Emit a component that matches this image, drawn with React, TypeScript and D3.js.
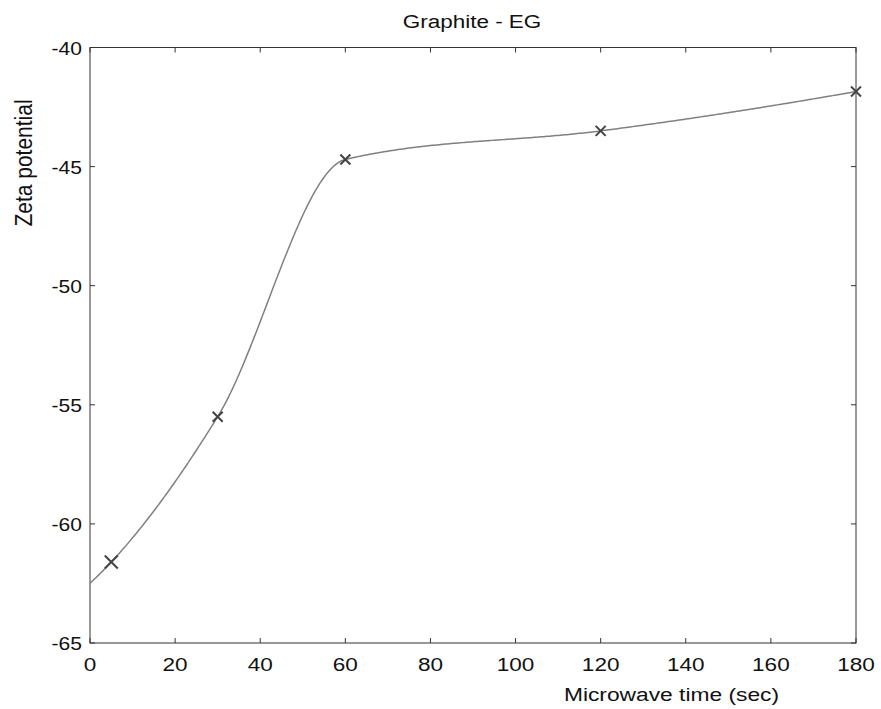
import React from "react";
import * as d3 from "d3";

const times = [5, 30, 60, 120, 180];
const zeta = [-61.6, -55.5, -44.7, -43.5, -41.85];
const xTicks = [0, 20, 40, 60, 80, 100, 120, 140, 160, 180];
const yTicks = [-65, -60, -55, -50, -45, -40];
const title = "Graphite - EG";
const xLabel = "Microwave time (sec)";
const yLabel = "Zeta potential";

// MATLAB-style pchip (shape-preserving piecewise cubic) with end extrapolation
function pchip(xs: number[], ys: number[]) {
  const n = xs.length;
  const h: number[] = [];
  const del: number[] = [];
  for (let i = 0; i < n - 1; i++) {
    h.push(xs[i + 1] - xs[i]);
    del.push((ys[i + 1] - ys[i]) / h[i]);
  }
  const d = new Array(n).fill(0);
  for (let k = 1; k < n - 1; k++) {
    if (del[k - 1] * del[k] > 0) {
      const w1 = 2 * h[k] + h[k - 1];
      const w2 = h[k] + 2 * h[k - 1];
      d[k] = (w1 + w2) / (w1 / del[k - 1] + w2 / del[k]);
    }
  }
  const endSlope = (h0: number, h1: number, d0: number, d1: number) => {
    let s = ((2 * h0 + h1) * d0 - h0 * d1) / (h0 + h1);
    if (Math.sign(s) !== Math.sign(d0)) s = 0;
    else if (Math.sign(d0) !== Math.sign(d1) && Math.abs(s) > Math.abs(3 * d0)) s = 3 * d0;
    return s;
  };
  d[0] = endSlope(h[0], h[1], del[0], del[1]);
  d[n - 1] = endSlope(h[n - 2], h[n - 3], del[n - 2], del[n - 3]);
  return (x: number) => {
    let k = 0;
    while (k < n - 2 && x > xs[k + 1]) k++;
    const hk = h[k];
    const t = x - xs[k];
    const c = (3 * del[k] - 2 * d[k] - d[k + 1]) / hk;
    const b = (d[k] - 2 * del[k] + d[k + 1]) / (hk * hk);
    return ys[k] + t * (d[k] + t * (c + t * b));
  };
}

function T(props: { x: number; y: number; anchor: string; size: number; sx: number; children: any; rotate?: boolean }) {
  const { x, y, anchor, size, sx, children, rotate } = props;
  const tr = rotate
    ? `translate(${x},${y}) scale(${sx},1) rotate(-90)`
    : `translate(${x},${y}) scale(${sx},1)`;
  return (
    <text transform={tr} textAnchor={anchor} fontSize={size} fill="#111">
      {children}
    </text>
  );
}

export default function App() {
  const W = 881, H = 709;
  const left = 90, right = 856, top = 47.5, bottom = 643;
  const x = d3.scaleLinear().domain([0, 180]).range([left, right]);
  const y = d3.scaleLinear().domain([-65, -40]).range([bottom, top]);
  const f = pchip(times, zeta);
  const samples = d3.range(0, 180.01, 0.5);
  const line = d3.line<number>().x((t) => x(t)).y((t) => y(f(t)));
  const font = "'Liberation Sans', Arial, Helvetica, sans-serif";
  const tick = 5;
  const axisColor = "#333";
  return (
    <svg width={W} height={H} style={{ position: "absolute", left: 0, top: 0, background: "#fff" }} fontFamily={font}>
      <rect x={0} y={0} width={W} height={H} fill="#fff" />
      <rect x={left} y={top} width={right - left} height={bottom - top} fill="none" stroke={axisColor} strokeWidth={1} />
      {xTicks.map((t) => (
        <g key={"x" + t}>
          <line x1={x(t)} x2={x(t)} y1={bottom} y2={bottom - tick} stroke={axisColor} />
          <line x1={x(t)} x2={x(t)} y1={top} y2={top + tick} stroke={axisColor} />
          <T x={x(t)} y={671} anchor="middle" size={18.5} sx={1.22}>{t}</T>
        </g>
      ))}
      {yTicks.map((v) => (
        <g key={"y" + v}>
          <line x1={left} x2={left + tick} y1={y(v)} y2={y(v)} stroke={axisColor} />
          <line x1={right} x2={right - tick} y1={y(v)} y2={y(v)} stroke={axisColor} />
          <T x={82} y={y(v) + 7} anchor="end" size={18} sx={1.17}>{v}</T>
        </g>
      ))}
      <path d={line(samples) || ""} fill="none" stroke="#808080" strokeWidth={1.5} />
      {times.map((t, i) => {
        const cx = x(t), cy = y(zeta[i]), r = i === 0 ? 6.5 : 5;
        return (
          <g key={"m" + i} stroke="#444" strokeWidth={2}>
            <line x1={cx - r} y1={cy - r} x2={cx + r} y2={cy + r} />
            <line x1={cx - r} y1={cy + r} x2={cx + r} y2={cy - r} />
          </g>
        );
      })}
      <T x={472} y={28} anchor="middle" size={18} sx={1.25}>{title}</T>
      <T x={671.5} y={701} anchor="middle" size={19} sx={1.2}>{xLabel}</T>
      <T x={32} y={163} anchor="middle" size={21} sx={1.15} rotate>{yLabel}</T>
    </svg>
  );
}
